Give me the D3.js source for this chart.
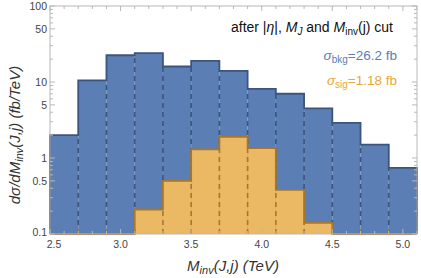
<!DOCTYPE html>
<html>
<head>
<meta charset="utf-8">
<script src="https://cdn.jsdelivr.net/npm/d3@7"></script>
<style>
  html, body { margin: 0; padding: 0; background: #fff; }
  svg { display: block; font-family: "Liberation Sans", Arial, sans-serif; }
</style>
</head>
<body>
<svg id="chart" width="421" height="278"></svg>
<script>
// bin edges (TeV) and per-bin values (fb/TeV)
const binEdges = [2.5, 2.7, 2.9, 3.1, 3.3, 3.5, 3.7, 3.9, 4.1, 4.3, 4.5, 4.7, 4.9, 5.1];
const bkgValues = [2.0, 10.5, 22.5, 24, 16, 19, 14, 8.1, 7.0, 4.5, 2.9, 1.5, 0.74];
const sigValues = [0.05, 0.05, 0.05, 0.21, 0.5, 1.3, 1.9, 1.35, 0.38, 0.14, 0.05, 0.05, 0.05];
const xTicks = [2.5, 3.0, 3.5, 4.0, 4.5, 5.0];
const yTicks = [0.1, 0.5, 1, 5, 10, 50, 100];

const svg = d3.select("#chart");
const M = { left: 50, right: 417, top: 6, bottom: 234 };

const x = d3.scaleLinear().domain([2.5, 5.1]).range([M.left, M.right]);
const y = d3.scaleLog().domain([0.1, 100]).range([M.bottom, M.top]).clamp(true);

const frameCol = "#b8b8b8";

// draw one histogram: fill, dashed interior edges, solid step outline
function drawHist(values, fill, edge) {
  const bins = values.map((v, i) => ({ x0: binEdges[i], x1: binEdges[i + 1], v }));
  const g = svg.append("g");
  g.selectAll("rect").data(bins.filter(d => d.v > 0.1)).join("rect")
    .attr("x", d => x(d.x0))
    .attr("width", d => x(d.x1) - x(d.x0))
    .attr("y", d => y(d.v))
    .attr("height", d => M.bottom - y(d.v))
    .attr("fill", fill);

  // dashed lines at interior bin edges
  const inner = binEdges.slice(1, -1).map((e, i) => ({ e, h: Math.min(values[i], values[i + 1]) }));
  g.selectAll("line.dash").data(inner).join("line")
    .attr("class", "dash")
    .attr("x1", d => x(d.e)).attr("x2", d => x(d.e))
    .attr("y1", M.bottom)
    .attr("y2", d => d.h > 0.1 ? y(d.h) : M.bottom - 6)
    .attr("stroke", edge).attr("stroke-width", 1.6)
    .attr("stroke-dasharray", "5,4");

  // step outline
  const pts = [];
  bins.forEach(d => {
    const yy = d.v > 0.1 ? y(d.v) : M.bottom;
    pts.push([x(d.x0), yy], [x(d.x1), yy]);
  });
  pts.unshift([x(bins[0].x0), M.bottom]);
  pts.push([x(bins[bins.length - 1].x1), M.bottom]);
  g.append("path")
    .attr("d", d3.line()(pts))
    .attr("fill", "none")
    .attr("stroke", edge).attr("stroke-width", 1.8)
    .attr("stroke-linejoin", "miter");
}

drawHist(bkgValues, "#5b7eb4", "#3c557d");
drawHist(sigValues, "#ebb863", "#a8772a");

// frame
svg.append("rect")
  .attr("x", M.left).attr("y", M.top)
  .attr("width", M.right - M.left).attr("height", M.bottom - M.top)
  .attr("fill", "none").attr("stroke", frameCol).attr("stroke-width", 1);

// x ticks (major + minor), bottom and top
const xMinor = d3.range(25, 52).map(d => d / 10);
[[M.bottom, -1], [M.top, 1]].forEach(([yy, dir]) => {
  svg.append("g").selectAll("line").data(xMinor).join("line")
    .attr("x1", d => x(d)).attr("x2", d => x(d))
    .attr("y1", yy)
    .attr("y2", d => yy + dir * (xTicks.some(t => Math.abs(t - d) < 1e-6) ? 5 : 3))
    .attr("stroke", frameCol);
});
svg.append("g").selectAll("text").data(xTicks).join("text")
  .attr("x", (d, i) => x(d) + (i === 0 ? 4 : 0)).attr("y", M.bottom + 14)
  .attr("text-anchor", "middle").attr("font-size", 10.5).attr("fill", "#444")
  .text(d => d.toFixed(1));

// y ticks (log major + minor), left and right
const yMinor = [];
[0.1, 1, 10].forEach(dec => { for (let k = 1; k <= 9; k++) yMinor.push(dec * k); });
yMinor.push(100);
[[M.left, 1], [M.right, -1]].forEach(([xx, dir]) => {
  svg.append("g").selectAll("line").data(yMinor).join("line")
    .attr("x1", xx)
    .attr("x2", d => xx + dir * (yTicks.includes(+d.toPrecision(3)) ? 5 : 3))
    .attr("y1", d => y(d)).attr("y2", d => y(d))
    .attr("stroke", frameCol);
});
svg.append("g").selectAll("text").data(yTicks).join("text")
  .attr("x", M.left - 3).attr("y", (d, i) => y(d) + (i === 0 ? 2 : 4))
  .attr("text-anchor", "end").attr("font-size", 10.5).attr("fill", "#444")
  .text(d => d);

// axis titles
const yt = svg.append("text")
  .attr("transform", `translate(20,${(M.top + M.bottom) / 2 + 15}) rotate(-90)`)
  .attr("text-anchor", "middle").attr("font-size", 15).attr("fill", "#333")
  .attr("font-style", "italic");
yt.append("tspan").text("dσ/dM");
yt.append("tspan").attr("font-size", 11).attr("dy", 3).text("inv");
yt.append("tspan").attr("dy", -3).text("(J,j)  (fb/TeV)");

const xt = svg.append("text")
  .attr("x", 233).attr("y", 271)
  .attr("text-anchor", "middle").attr("font-size", 15).attr("fill", "#333")
  .attr("font-style", "italic");
xt.append("tspan").text("M");
xt.append("tspan").attr("font-size", 11).attr("dy", 3).text("inv");
xt.append("tspan").attr("dy", -3).text("(J,j) (TeV)");

// annotations
const a1 = svg.append("text")
  .attr("x", 393).attr("y", 32)
  .attr("text-anchor", "end").attr("font-size", 14).attr("fill", "#111");
a1.append("tspan").text("after |");
a1.append("tspan").attr("font-style", "italic").text("η");
a1.append("tspan").text("|, ");
a1.append("tspan").attr("font-style", "italic").text("M");
a1.append("tspan").attr("font-style", "italic").attr("font-size", 10).attr("dy", 3).text("J");
a1.append("tspan").attr("dy", -3).text(" and ");
a1.append("tspan").attr("font-style", "italic").text("M");
a1.append("tspan").attr("font-size", 10).attr("dy", 3).text("inv");
a1.append("tspan").attr("dy", -3).text("(j) cut");

function sigmaLabel(yy, sub, val, col) {
  const t = svg.append("text")
    .attr("x", 397).attr("y", yy)
    .attr("text-anchor", "end").attr("font-size", 13.5).attr("fill", col);
  t.append("tspan").attr("font-style", "italic").text("σ");
  t.append("tspan").attr("font-size", 10).attr("dy", 3).text(sub);
  t.append("tspan").attr("dy", -3).text("=" + val + " fb");
}
sigmaLabel(60, "bkg", "26.2", "#5b7eb4");
sigmaLabel(85, "sig", "1.18", "#e8a63e");
</script>
</body>
</html>
